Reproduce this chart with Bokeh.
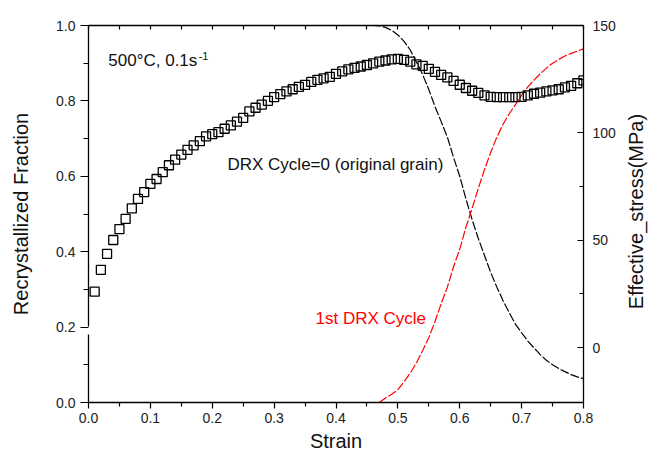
import math

from bokeh.plotting import figure
from bokeh.layouts import row
from bokeh.models import (Range1d, LinearAxis, FixedTicker, PrintfTickFormatter,
                          CustomJSTickFormatter, Label)
from bokeh.embed import file_html
from bokeh.resources import INLINE

FONT = "Liberation Sans"
INK = "#111111"

# Flow stress (MPa) against strain, right-hand axis
strain_sq = [0.01, 0.02, 0.03, 0.04, 0.05, 0.06, 0.07, 0.08, 0.09, 0.10,
             0.11, 0.12, 0.13, 0.14, 0.15, 0.16, 0.17, 0.18, 0.19, 0.20,
             0.21, 0.22, 0.23, 0.24, 0.25, 0.26, 0.27, 0.28, 0.29, 0.30,
             0.31, 0.32, 0.33, 0.34, 0.35, 0.36, 0.37, 0.38, 0.39, 0.40,
             0.41, 0.42, 0.43, 0.44, 0.45, 0.46, 0.47, 0.48, 0.49, 0.50,
             0.51, 0.52, 0.53, 0.54, 0.55, 0.56, 0.57, 0.58, 0.59, 0.60,
             0.61, 0.62, 0.63, 0.64, 0.65, 0.66, 0.67, 0.68, 0.69, 0.70,
             0.71, 0.72, 0.73, 0.74, 0.75, 0.76, 0.77, 0.78, 0.79, 0.80]
stress_mpa = [26.0, 36.2, 43.6, 50.1, 55.2, 59.9, 64.8, 69.2, 72.4, 76.2,
              78.5, 81.7, 84.9, 87.5, 89.9, 92.1, 94.2, 96.1, 98.4, 99.4,
              100.3, 101.9, 103.5, 105.2, 107.0, 110.0, 111.7, 113.1, 114.9, 116.6,
              118.0, 119.3, 120.3, 121.4, 122.3, 123.7, 124.7, 125.4, 126.1, 127.5,
              128.6, 129.6, 130.3, 130.9, 131.6, 132.4, 133.2, 133.7, 134.2, 134.5,
              134.0, 133.2, 131.9, 131.2, 129.8, 128.4, 127.0, 125.8, 124.2, 122.4,
              120.9, 119.6, 118.6, 117.5, 116.8, 116.6, 116.6, 116.6, 116.6, 116.8,
              117.5, 118.2, 118.7, 119.3, 119.8, 120.3, 121.2, 121.9, 123.1, 124.4]

# Fraction of original grains (DRX cycle 0)
strain_c0 = [0.44, 0.45, 0.46, 0.47, 0.48, 0.49, 0.50, 0.51, 0.52, 0.53,
             0.54, 0.55, 0.56, 0.57, 0.58, 0.59, 0.60, 0.61, 0.62, 0.63,
             0.64, 0.65, 0.66, 0.67, 0.68, 0.69, 0.70, 0.71, 0.72, 0.73,
             0.74, 0.75, 0.76, 0.77, 0.78, 0.79, 0.80]
frac_c0 = [1.0, 1.0, 1.0, 0.999, 0.995, 0.987, 0.975, 0.958, 0.935, 0.903,
           0.870, 0.830, 0.785, 0.745, 0.704, 0.650, 0.600, 0.540, 0.485, 0.435,
           0.390, 0.345, 0.306, 0.270, 0.238, 0.208, 0.185, 0.163, 0.145, 0.127,
           0.112, 0.100, 0.090, 0.082, 0.074, 0.068, 0.063]

# Fraction recrystallised in the first DRX cycle
strain_c1 = [0.47, 0.48, 0.49, 0.50, 0.51, 0.52, 0.53, 0.54, 0.55, 0.56,
             0.57, 0.58, 0.59, 0.60, 0.61, 0.62, 0.63, 0.64, 0.65, 0.66,
             0.67, 0.68, 0.69, 0.70, 0.71, 0.72, 0.73, 0.74, 0.75, 0.76,
             0.77, 0.78, 0.79, 0.80]
frac_c1 = [0.0, 0.012, 0.022, 0.034, 0.055, 0.078, 0.105, 0.138, 0.172, 0.215,
           0.262, 0.306, 0.360, 0.407, 0.465, 0.515, 0.568, 0.618, 0.663, 0.704,
           0.738, 0.766, 0.790, 0.815, 0.837, 0.855, 0.872, 0.887, 0.900, 0.910,
           0.919, 0.926, 0.932, 0.938]

x_major = [0.0, 0.1, 0.2, 0.3, 0.4, 0.5, 0.6, 0.7, 0.8]
x_minor = [0.05, 0.15, 0.25, 0.35, 0.45, 0.55, 0.65, 0.75]
y_major = [0.0, 0.2, 0.4, 0.6, 0.8, 1.0]
y_minor = [0.1, 0.3, 0.5, 0.7, 0.9]
s_major = [0, 50, 100, 150]
s_minor = [25, 75, 125]

p = figure(width=620, height=458, output_backend="svg", toolbar_location=None,
           x_range=Range1d(0.0, 0.8), y_range=Range1d(0.0, 1.0),
           min_border_left=88, min_border_right=37, min_border_top=25,
           min_border_bottom=56)
p.extra_y_ranges = {"stress": Range1d(-25.6, 150.0)}
p.grid.visible = False
p.outline_line_color = None
p.background_fill_color = "white"
p.border_fill_color = "white"


def style_axis(ax, title, size="20px"):
    ax.axis_label = title
    ax.axis_label_text_font = FONT
    ax.axis_label_text_font_size = size
    ax.axis_label_text_font_style = "normal"
    ax.axis_label_text_color = INK
    ax.major_label_text_font = FONT
    ax.major_label_text_font_size = "14px"
    ax.major_label_text_color = "#222222"
    ax.axis_line_color = "black"
    ax.axis_line_width = 1.3
    ax.major_tick_line_color = "black"
    ax.minor_tick_line_color = "black"
    ax.major_tick_line_width = 1.2
    ax.minor_tick_line_width = 1.2


# bottom strain axis
bx = p.xaxis[0]
style_axis(bx, "Strain")
bx.ticker = FixedTicker(ticks=x_major, minor_ticks=x_minor)
bx.formatter = PrintfTickFormatter(format="%.1f")
bx.major_tick_out, bx.major_tick_in = 6, 0
bx.minor_tick_out, bx.minor_tick_in = 4, 0
bx.major_label_standoff = 4
bx.axis_label_standoff = 4

# left fraction axis, with a break just below 0.2
ly = p.yaxis[0]
style_axis(ly, "Recrystallized Fraction")
ly.ticker = FixedTicker(ticks=y_major, minor_ticks=y_minor)
ly.formatter = PrintfTickFormatter(format="%.1f")
ly.major_tick_out, ly.major_tick_in = 8, 0
ly.minor_tick_out, ly.minor_tick_in = 5, 0
ly.major_label_standoff = 5
ly.axis_label_standoff = 21
ly.axis_line_dash = "68 8 400"

# right stress axis; its title sits in a narrow strip beside the plot
ry = LinearAxis(y_range_name="stress")
style_axis(ry, None)
ry.ticker = FixedTicker(ticks=s_major, minor_ticks=s_minor)
ry.formatter = PrintfTickFormatter(format="%d")
ry.major_tick_in, ry.major_tick_out = 6, 0
ry.minor_tick_in, ry.minor_tick_out = 4, 0
ry.major_label_standoff = 9
p.add_layout(ry, "right")

# top frame edge with inward ticks and no labels
tx = LinearAxis()
tx.ticker = FixedTicker(ticks=x_major + x_minor, minor_ticks=[])
tx.formatter = CustomJSTickFormatter(code="return ''")
tx.major_tick_in, tx.major_tick_out = 4, 0
tx.axis_line_color = "black"
tx.axis_line_width = 1.3
tx.major_tick_line_width = 1.2
tx.major_label_standoff = 0
p.add_layout(tx, "above")

p.line(strain_c0, frac_c0, line_color="black", line_width=1.2, line_dash="9 2")
p.line(strain_c1, frac_c1, line_color="red", line_width=1.2, line_dash="9 2")
p.scatter(strain_sq, stress_mpa, y_range_name="stress", marker="square", size=9,
          fill_color=None, line_color="black", line_width=1.3)

p.add_layout(Label(x=0.032, y=0.907, text="500°C, 0.1s", text_font=FONT,
                   text_font_size="17px", text_color=INK, text_baseline="middle"))
p.add_layout(Label(x=0.178, y=0.918, text="-1", text_font=FONT,
                   text_font_size="11px", text_color=INK, text_baseline="middle"))
p.add_layout(Label(x=0.2246, y=0.631, text="DRX Cycle=0 (original grain)",
                   text_font=FONT, text_font_size="17px", text_color=INK,
                   text_baseline="middle"))
p.add_layout(Label(x=0.3669, y=0.2228, text="1st DRX Cycle", text_font=FONT,
                   text_font_size="17px", text_color="red",
                   text_baseline="middle"))

# strip holding the stress-axis title, reading bottom to top
strip = figure(width=34, height=458, output_backend="svg", toolbar_location=None,
               x_range=Range1d(0, 34), y_range=Range1d(0, 458),
               min_border_left=0, min_border_right=0, min_border_top=0,
               min_border_bottom=0, x_axis_location=None, y_axis_location=None)
strip.grid.visible = False
strip.outline_line_color = None
strip.background_fill_color = "white"
strip.border_fill_color = "white"
strip.add_layout(Label(x=15, y=232, text="Effective_stress(MPa)",
                       angle=math.pi / 2, text_font=FONT, text_font_size="20px",
                       text_color=INK, text_align="center",
                       text_baseline="middle"))

layout = row(p, strip, spacing=0)
open("out.html", "w").write(file_html(layout, INLINE))
